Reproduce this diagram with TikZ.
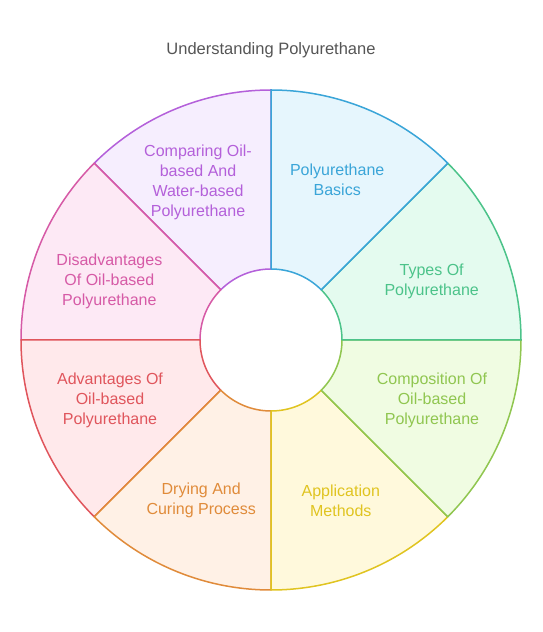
\documentclass[tikz,border=0pt]{standalone}
\usepackage{fontspec}
\setmainfont{Liberation Sans}
\usetikzlibrary{positioning, calc}

% colours of the eight segments
\definecolor{blueline}{HTML}{3AA5D8}
\definecolor{bluefill}{HTML}{E6F6FD}
\definecolor{greenline}{HTML}{4CC38A}
\definecolor{greenfill}{HTML}{E4FBEF}
\definecolor{limeline}{HTML}{90C650}
\definecolor{limefill}{HTML}{F0FCE2}
\definecolor{yellowline}{HTML}{E0C420}
\definecolor{yellowfill}{HTML}{FFF9DC}
\definecolor{orangeline}{HTML}{E08B3A}
\definecolor{orangefill}{HTML}{FFF1E6}
\definecolor{redline}{HTML}{E0555C}
\definecolor{redfill}{HTML}{FFE9EB}
\definecolor{pinkline}{HTML}{D65AA6}
\definecolor{pinkfill}{HTML}{FDE9F5}
\definecolor{purpleline}{HTML}{B460DA}
\definecolor{purplefill}{HTML}{F6EEFE}
\definecolor{titlegray}{HTML}{555555}

\begin{document}
\begin{tikzpicture}[
    x=1pt, y=1pt,
    font=\fontsize{16}{20}\selectfont,
    % --- styles ---
    segment/.style={line width=1.5pt, line join=round},
    seg label/.style={align=center, inner sep=0pt},
    title text/.style={text=titlegray, font=\fontsize{16.5}{18}\selectfont},
]
    \useasboundingbox (0,0) rectangle (542,632);

    % title
    \node[title text] (title) at (271,582) {Understanding Polyurethane};

    \coordinate (hub) at (271,292);

    % ====== wheel segments (drawn from last to first) ======
    % Comparing
    \draw[segment, draw=purpleline, fill=purplefill, shift={(hub)}]
        (135:71) -- (135:250) arc[start angle=135, end angle=90, radius=250]
        -- (90:71) arc[start angle=90, end angle=135, radius=71] -- cycle;
    % Disadvantages
    \draw[segment, draw=pinkline, fill=pinkfill, shift={(hub)}]
        (180:71) -- (180:250) arc[start angle=180, end angle=135, radius=250]
        -- (135:71) arc[start angle=135, end angle=180, radius=71] -- cycle;
    % Advantages
    \draw[segment, draw=redline, fill=redfill, shift={(hub)}]
        (225:71) -- (225:250) arc[start angle=225, end angle=180, radius=250]
        -- (180:71) arc[start angle=180, end angle=225, radius=71] -- cycle;
    % Drying
    \draw[segment, draw=orangeline, fill=orangefill, shift={(hub)}]
        (270:71) -- (270:250) arc[start angle=270, end angle=225, radius=250]
        -- (225:71) arc[start angle=225, end angle=270, radius=71] -- cycle;
    % Application
    \draw[segment, draw=yellowline, fill=yellowfill, shift={(hub)}]
        (315:71) -- (315:250) arc[start angle=315, end angle=270, radius=250]
        -- (270:71) arc[start angle=270, end angle=315, radius=71] -- cycle;
    % Composition
    \draw[segment, draw=limeline, fill=limefill, shift={(hub)}]
        (360:71) -- (360:250) arc[start angle=360, end angle=315, radius=250]
        -- (315:71) arc[start angle=315, end angle=360, radius=71] -- cycle;
    % Types
    \draw[segment, draw=greenline, fill=greenfill, shift={(hub)}]
        (45:71) -- (45:250) arc[start angle=45, end angle=0, radius=250]
        -- (0:71) arc[start angle=0, end angle=45, radius=71] -- cycle;
    % Basics
    \draw[segment, draw=blueline, fill=bluefill, shift={(hub)}]
        (90:71) -- (90:250) arc[start angle=90, end angle=45, radius=250]
        -- (45:71) arc[start angle=45, end angle=90, radius=71] -- cycle;

    % ====== labels ======
    \node[seg label, text=blueline] (basics) at ($(hub)+(67.5:173)$) {Polyurethane\\Basics};
    \node[seg label, text=greenline] (types) at ($(hub)+(20:171)$) {Types Of\\Polyurethane};
    \node[seg label, text=limeline] (composition) at ($(hub)+(-20.6:172)$) {Composition Of\\Oil-based\\Polyurethane};
    \node[seg label, text=yellowline] (application) at ($(hub)+(-66.5:175)$) {Application\\Methods};
    \node[seg label, text=orangeline] (drying) at ($(hub)+(-113.5:175)$) {Drying And\\Curing Process};
    \node[seg label, text=redline] (advantages) at ($(hub)+(-159.4:172)$) {Advantages Of\\Oil-based\\Polyurethane};
    \node[seg label, text=pinkline] (disadvantages) at ($(hub)+(160:172)$) {Disadvantages\\Of Oil-based\\Polyurethane};
    \node[seg label, text=purpleline] (comparing) at ($(hub)+(114.8:174)$) {Comparing Oil-\\based And\\Water-based\\Polyurethane};

\end{tikzpicture}
\end{document}
